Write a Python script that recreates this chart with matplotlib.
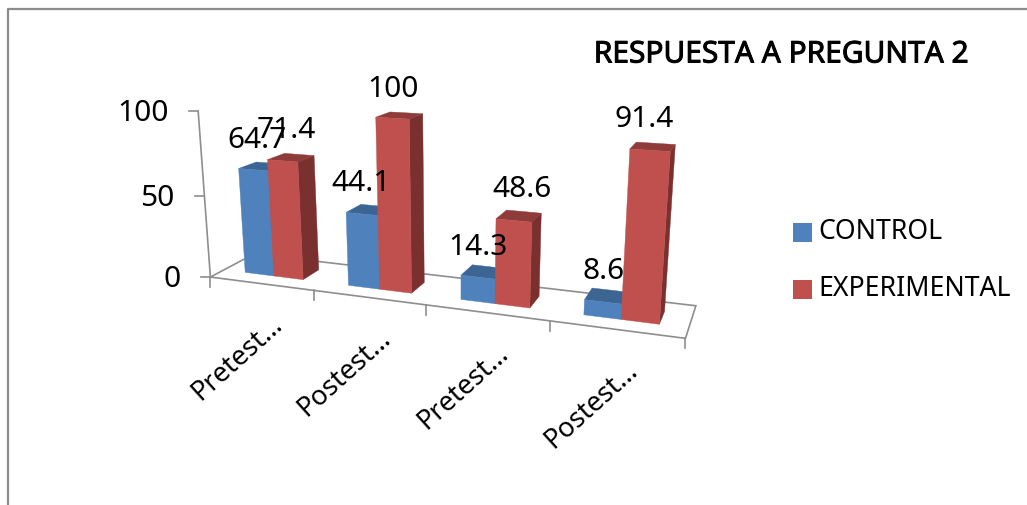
import matplotlib
matplotlib.use("Agg")
import matplotlib.pyplot as plt
import matplotlib.patheffects as pe
from matplotlib.legend_handler import HandlerPatch
from matplotlib.patches import Patch, Polygon, Rectangle
import numpy as np

categories = ["Pretest…", "Postest…", "Pretest…", "Postest…"]
series_names = ["CONTROL", "EXPERIMENTAL"]
control = [64.7, 44.1, 14.3, 8.6]
experimental = [71.4, 100, 48.6, 91.4]
z_ticks = [0, 50, 100]
title = "RESPUESTA A PREGUNTA 2"

# label nudges in canvas pixels, relative to the bar top
control_nudge = [(4, -30), (-1, -31), (0, -31), (0, -31)]
experimental_nudge = [(4, -31), (1, -30), (8, -32), (-6, -32)]

# face colours: front, top, side
blues = ["#4F81BD", "#3D6594", "#2F4F75"]
reds = ["#C0504D", "#8E3B39", "#7A302E"]
grid_col = "#8E8E8E"

W, H = 1027, 506
BAR_W = 1 / 3.5
DEPTH0, DEPTH1 = 0.3, 0.7

# world (category, depth, value) -> canvas anchors for the perspective camera
anchors = [
    ((0, 0, 0), (211, 278)), ((1, 0, 0), (313, 291)), ((2, 0, 0), (427, 306)),
    ((3, 0, 0), (551, 322)), ((4, 0, 0), (685, 340)), ((4, 1, 0), (696, 307)),
    ((0, 1, 0), (254, 255)), ((0, 0, 50), (204, 197)), ((0, 0, 100), (198, 113)),
    ((1 + 5.5 / 7, 0.3, 100), (410, 120)), ((1 + 5.5 / 7, 0.3, 0), (411, 294)),
    ((3 + 5.5 / 7, 0.3, 91.4), (670, 152)), ((3 + 5.5 / 7, 0.3, 0), (659, 325)),
]


def fit_camera(pairs):
    rows, rhs = [], []
    for (x, y, z), (u, v) in pairs:
        rows.append([x, y, z, 1, 0, 0, 0, 0, -u * x, -u * y, -u * z])
        rows.append([0, 0, 0, 0, x, y, z, 1, -v * x, -v * y, -v * z])
        rhs += [u, v]
    p = np.linalg.lstsq(np.array(rows, float), np.array(rhs, float), rcond=None)[0]
    return np.append(p, 1).reshape(3, 4)


CAM = fit_camera(anchors)


def proj(x, y, z):
    u, v, w = CAM @ np.array([x, y, z, 1.0])
    return u / w, v / w


fig = plt.figure(figsize=(W / 100, H / 100), dpi=100)
ax = fig.add_axes([0, 0, 1, 1])
ax.set_xlim(0, W)
ax.set_ylim(H, 0)
ax.axis("off")
plt.rcParams["font.family"] = "Noto Sans"

# outer frame of the chart area (left and top only)
ax.plot([8, 8, W], [H, 10, 10], color="#8C8C8C", lw=1.6, zorder=1)

# floor
floor = [proj(0, 0, 0), proj(4, 0, 0), proj(4, 1, 0), proj(0, 1, 0), proj(0, 0, 0)]
ax.plot(*zip(*floor), color=grid_col, lw=1.2, zorder=2, solid_joinstyle="miter")
for i in range(5):
    u, v = proj(i, 0, 0)
    ax.plot([u, u], [v, v + 10], color=grid_col, lw=1.2, zorder=2)

# value axis
ax.plot(*zip(proj(0, 0, 0), proj(0, 0, 100)), color=grid_col, lw=1.2, zorder=2)
for t in z_ticks:
    u, v = proj(0, 0, t)
    ax.plot([u - 9, u], [v, v], color=grid_col, lw=1.2, zorder=2)
    ax.text(u - 30, v + 1.5, str(t), ha="right", va="center", fontsize=21.5, color="black")


def face(pts, col, z):
    ax.add_patch(Polygon([proj(*p) for p in pts], closed=True, fc=col, ec=col, lw=0.3, zorder=z))


def draw_bar(x0, val, cols, z):
    x1 = x0 + BAR_W
    y0, y1 = DEPTH0, DEPTH1
    face([(x1, y0, 0), (x1, y1, 0), (x1, y1, val), (x1, y0, val)], cols[2], z)
    face([(x0, y0, val), (x1, y0, val), (x1, y1, val), (x0, y1, val)], cols[1], z)
    face([(x0, y0, 0), (x1, y0, 0), (x1, y0, val), (x0, y0, val)], cols[0], z)


for i in range(len(categories)):
    start = i + 1.5 / 7
    draw_bar(start, control[i], blues, 3)
    draw_bar(start + BAR_W, experimental[i], reds, 4)

# value labels sit above the front of each bar top
for i in range(len(categories)):
    start = i + 1.5 / 7
    for k, (vals, nudge) in enumerate([(control, control_nudge), (experimental, experimental_nudge)]):
        u, v = proj(start + BAR_W * (k + 0.5), DEPTH0, vals[i])
        ax.text(u + nudge[i][0], v + nudge[i][1], f"{vals[i]:g}", ha="center", va="center",
                fontsize=21.5, color="black", zorder=6)

# category labels, slanted and hanging from the front edge
for i, name in enumerate(categories):
    u, v = proj(i + 0.5, 0, 0)
    ax.text(u + 9, v + 26, name, rotation=42, rotation_mode="anchor", ha="right", va="top",
            fontsize=19.5, color="black", zorder=6)


# legend squares sit a little lower than the text centre
def low_square(legend, orig_handle, xdescent, ydescent, width, height, fontsize):
    return Rectangle((-xdescent, -ydescent - 2.5), width, height)


handles = [Patch(fc=blues[0], ec="none"), Patch(fc=reds[0], ec="none")]
ax.legend(handles, series_names, loc="upper left", bbox_to_anchor=(793 / W, 1 - 218 / H),
          frameon=False, fontsize=19.2, borderpad=0, borderaxespad=0, handlelength=0.71,
          handleheight=0.71, handletextpad=0.25, labelspacing=1.1,
          handler_map={Patch: HandlerPatch(patch_func=low_square)})

ax.text(781, 56, title, ha="center", va="center", fontsize=21.5, color="black",
        path_effects=[pe.withStroke(linewidth=0.7, foreground="black")])

fig.savefig("out.png", dpi=100)
